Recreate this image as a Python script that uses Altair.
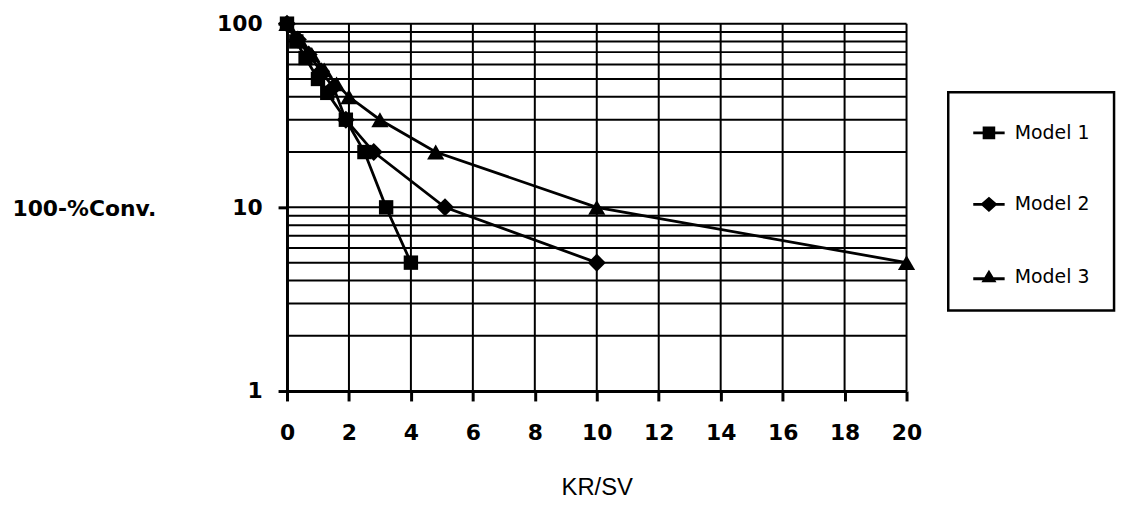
import altair as alt
import pandas as pd

# ---- data ----
m1_x = [0, 0.3, 0.6, 1.0, 1.3, 1.9, 2.5, 3.2, 4.0]
m1_y = [100, 80, 65, 50, 42, 30, 20, 10, 5]
m2_x = [0, 0.35, 0.7, 1.1, 1.5, 1.9, 2.8, 5.1, 10]
m2_y = [100, 82, 68, 55, 45, 30, 20, 10, 5]
m3_x = [0, 0.4, 0.8, 1.2, 1.6, 2.0, 3.0, 4.8, 10, 20]
m3_y = [100, 82, 68, 56, 47, 40, 30, 20, 10, 5]
models = ["Model 1", "Model 2", "Model 3"]

x_ticks = [0, 2, 4, 6, 8, 10, 12, 14, 16, 18, 20]
y_ticks = [1, 10, 100]
y_grid = [1, 2, 3, 4, 5, 6, 7, 8, 9, 10, 20, 30, 40, 50, 60, 70, 80, 90, 100]

rows = []
for name, xs, ys in zip(models, [m1_x, m2_x, m3_x], [m1_y, m2_y, m3_y]):
    for i, (a, b) in enumerate(zip(xs, ys)):
        rows.append({"model": name, "x": a, "y": b, "order": i})
df = pd.DataFrame(rows)
hgrid = pd.DataFrame({"y": y_grid})
vgrid = pd.DataFrame({"x": x_ticks})

W, H = 624, 370

xscale = alt.Scale(domain=[0, 20], nice=False, zero=False)
yscale = alt.Scale(type="log", domain=[1, 100], nice=False)

x_axis = alt.Axis(
    values=x_ticks, grid=False, title="KR/SV", tickSize=10, tickWidth=3,
    tickColor="black", domainColor="black", domainWidth=3,
    labelFont="DejaVu Sans", labelFontSize=22, labelFontWeight="bold",
    labelColor="black", labelPadding=22, labelFlush=False,
    titleFont="Liberation Sans", titleFontSize=24, titleFontWeight="normal",
    titleColor="black", titleY=97, titleBaseline="middle",
)
y_axis = alt.Axis(
    values=y_ticks, grid=False, title="100-%Conv.", tickSize=9, tickWidth=3,
    tickColor="black", domainColor="black", domainWidth=3,
    labelFont="DejaVu Sans", labelFontSize=22, labelFontWeight="bold",
    labelColor="black", labelPadding=16, labelFlush=False,
    titleFont="DejaVu Sans", titleFontSize=22, titleFontWeight="bold",
    titleColor="black", titleAngle=0, titleAlign="left", titleBaseline="middle",
    titleX=-277, titleY=186,
)

hg = alt.Chart(hgrid).mark_rule(color="black", strokeWidth=2).encode(
    y=alt.Y("y:Q", scale=yscale, axis=y_axis)
)
vg = alt.Chart(vgrid).mark_rule(color="black", strokeWidth=2).encode(
    x=alt.X("x:Q", scale=xscale, axis=x_axis)
)

lines = alt.Chart(df).mark_line(color="black", strokeWidth=2.8).encode(
    x=alt.X("x:Q", scale=xscale),
    y=alt.Y("y:Q", scale=yscale),
    detail="model:N",
    order="order:Q",
)

shapes = ["square", "diamond", "triangle-up"]
sizes = [210, 330, 300]
point_layers = []
for name, shp, sz in zip(models, shapes, sizes):
    point_layers.append(
        alt.Chart(df).transform_filter(alt.datum.model == name)
        .mark_point(filled=True, color="black", opacity=1, shape=shp, size=sz)
        .encode(x=alt.X("x:Q", scale=xscale), y=alt.Y("y:Q", scale=yscale))
    )

# legend symbols: marker plus a short line through it (filled outlines)
legend_paths = [
    "M-1,-0.09H1V0.09H-1Z M-0.4,-0.4H0.4V0.4H-0.4Z",
    "M-1,-0.09H1V0.09H-1Z M0,-0.48L0.55,0L0,0.48L-0.55,0Z",
    "M-1,0.03H1V0.21H-1Z M0,-0.46L0.48,0.34H-0.48Z",
]
leg = alt.Chart(df).mark_point(filled=True, color="black", opacity=0).encode(
    x=alt.X("x:Q", scale=xscale),
    y=alt.Y("y:Q", scale=yscale),
    shape=alt.Shape("model:N",
                    scale=alt.Scale(domain=models, range=legend_paths),
                    legend=alt.Legend(
                        title=None, orient="none", legendX=666, legendY=69,
                        symbolSize=1000, symbolOpacity=1,
                        symbolFillColor="black",
                        labelFont="DejaVu Sans", labelFontSize=19,
                        labelColor="black", labelOffset=9,
                        rowPadding=45, padding=24,
                        strokeColor="black",
                    )),
)

chart = alt.layer(hg, vg, lines, *point_layers, leg).properties(
    width=W, height=H,
    autosize=alt.AutoSizeParams(type="none"),
    padding={"left": 281, "top": 14, "right": 216, "bottom": 112},
    background="white",
).configure_view(stroke=None).configure_legend(strokeWidth=2.5)

chart.save("out.html", embed_options={"renderer": "svg", "actions": False})
